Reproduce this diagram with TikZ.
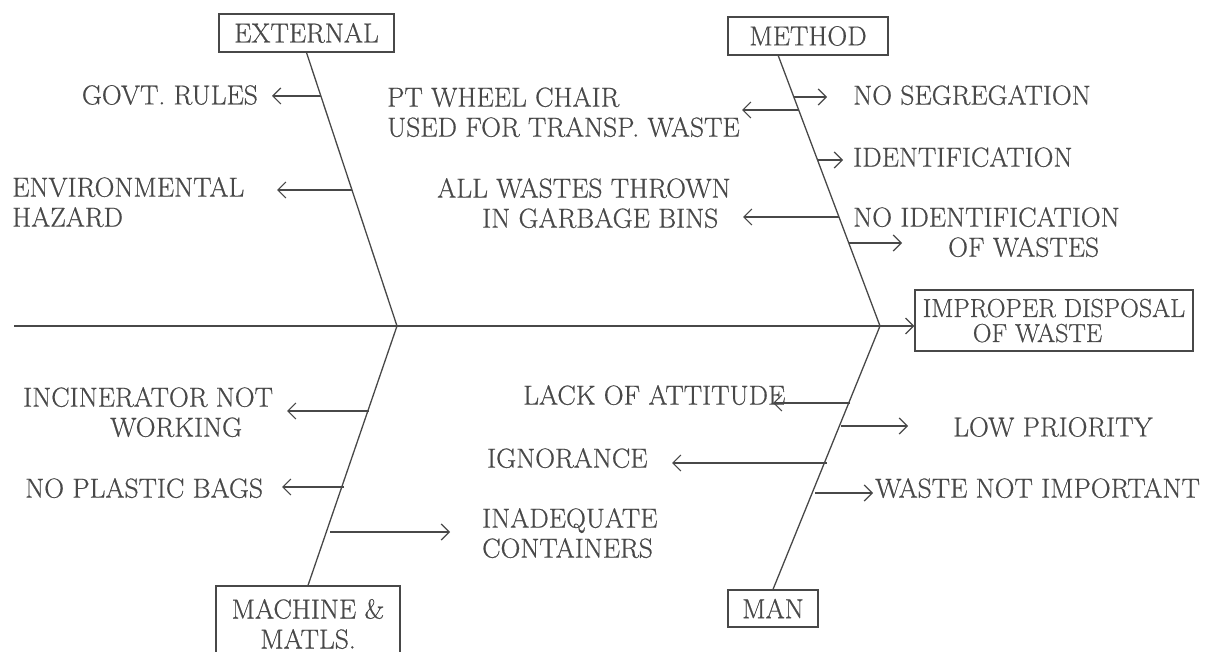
\documentclass[tikz,border=0pt]{standalone}
\usepackage{fontspec}
\newfontfamily\diafont{Latin Modern Roman}[FakeBold=0.6]
\usetikzlibrary{arrows.meta,calc}
\definecolor{ink}{RGB}{72,72,72}
\begin{document}
\begin{tikzpicture}[x=1pt,y=-1pt,
  txt/.style={inner sep=0pt, text=ink, font=\diafont\fontsize{27.5}{30}\selectfont, anchor=north west, align=left},
  catbox/.style={draw=ink, line width=1.2pt, inner sep=0pt, text=ink, font=\diafont\fontsize{27.5}{30}\selectfont, align=center},
  bone/.style={draw=ink, line width=1.3pt},
  rib/.style={draw=ink, line width=1.2pt, -{Straight Barb[length=8pt,width=16pt,line width=1.2pt]}},
]
\useasboundingbox (0,0) rectangle (1211,652);

% category boxes and effect
\node[catbox, minimum width=175pt, minimum height=38pt] (ext) at (306.5,33) {EXTERNAL};
\node[catbox, minimum width=160pt, minimum height=38pt] (meth) at (808,36) {METHOD};
\node[catbox, minimum width=278pt, minimum height=61pt, align=left, font=\diafont\fontsize{26}{25}\selectfont] (eff) at (1054,320.5) {IMPROPER DISPOSAL\\\hspace*{50pt}OF WASTE};
\node[catbox, minimum width=184pt, minimum height=76pt] (mach) at (308,624) {MACHINE \&\\MATLS.};
\node[catbox, minimum width=90pt, minimum height=37pt] (man) at (773,608.5) {MAN};

% spine and bones
\coordinate (tail) at (14,326);
\coordinate (jL) at (397,326);
\coordinate (jR) at (880,326);
\coordinate (mtop) at (778,55);
\draw[rib] (tail) -- (tail -| eff.west);
\draw[bone] (ext.south) -- (jL);
\draw[bone] (mach.north) -- (jL);
\draw[bone] (mtop) -- (jR);
\draw[bone] (man.north) -- (jR);

% cause texts
\node[txt, anchor=north east] (govt) at (258,85) {GOVT. RULES};
\node[txt] (env) at (12,177) {ENVIRONMENTAL\\HAZARD};
\node[txt] (pt) at (387,87) {PT WHEEL CHAIR\\USED FOR TRANSP. WASTE};
\node[txt] (allw) at (437,178) {ALL WASTES THROWN\\\hspace*{45pt}IN GARBAGE BINS};
\node[txt] (noseg) at (853,85) {NO SEGREGATION};
\node[txt] (ident) at (853,147) {IDENTIFICATION};
\node[txt] (noid) at (853,207) {NO IDENTIFICATION\\\hspace*{95pt}OF WASTES};
\node[txt] (lack) at (523,385) {LACK OF ATTITUDE};
\node[txt] (lowp) at (953,417) {LOW PRIORITY};
\node[txt] (ign) at (487,448) {IGNORANCE};
\node[txt] (wni) at (875,478) {WASTE NOT IMPORTANT};
\node[txt] (inc) at (23,387) {INCINERATOR NOT\\\hspace*{87pt}WORKING};
\node[txt] (npb) at (25,478) {NO PLASTIC BAGS};
\node[txt] (inad) at (482,508) {INADEQUATE\\CONTAINERS};

% rib arrows: start on bone, tip near text
\coordinate (s1) at (321,96);   \coordinate (e1) at (272,96);
\coordinate (s2) at (352,190);  \coordinate (e2) at (277,190);
\coordinate (s3) at (799,110);  \coordinate (e3) at (742,110);
\coordinate (s4) at (839,217);  \coordinate (e4) at (743,217);
\coordinate (s5) at (794,97);   \coordinate (e5) at (827,97);
\coordinate (s6) at (817,160);  \coordinate (e6) at (843,160);
\coordinate (s7) at (849,243);  \coordinate (e7) at (902,243);
\coordinate (s8) at (850,403);  \coordinate (e8) at (773,403);
\coordinate (s9) at (841,426);  \coordinate (e9) at (908,426);
\coordinate (s10) at (827,463); \coordinate (e10) at (672,463);
\coordinate (s11) at (815,493); \coordinate (e11) at (873,493);
\coordinate (s12) at (369,411); \coordinate (e12) at (287,411);
\coordinate (s13) at (344,487); \coordinate (e13) at (282,487);
\coordinate (s14) at (330,532); \coordinate (e14) at (450,532);
\foreach \i in {1,...,14} {\draw[rib] (s\i) -- (e\i);}
\end{tikzpicture}
\end{document}
